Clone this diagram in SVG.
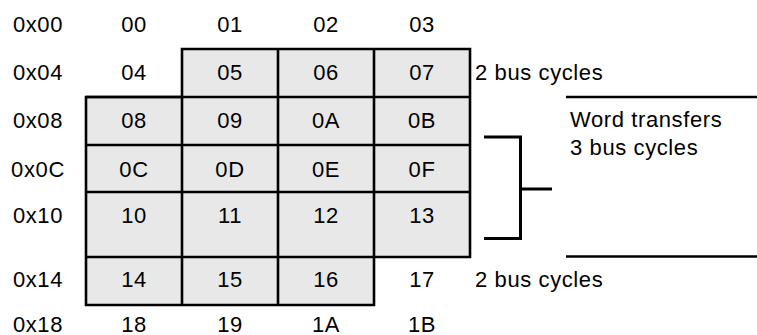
<svg xmlns="http://www.w3.org/2000/svg" width="757" height="335" viewBox="0 0 757 335">
<style>
text{font-family:"Liberation Sans",Arial,sans-serif;font-size:22px;letter-spacing:0.6px;fill:#000}
.c{text-anchor:middle}
.ln{stroke:#000;stroke-width:2.6;fill:none}
.br{stroke:#000;stroke-width:3;fill:none}
</style>
<rect width="757" height="335" fill="#fff"/>
<g id="grid">
<polygon points="182,49 470,49 470,257 374,257 374,305 86,305 86,97 182,97" fill="#e8e8e8" stroke="none"/>
</g>
<g id="connectors">
<path class="ln" d="M182,49 H470 V257 H374 V305 H86 V97 H182 Z"/>
<path class="ln" d="M182,97 V305 M278,49 V305 M374,49 V257 M86,97 H470 M86,145 H470 M86,192 H470 M86,257 H374"/>
<path class="br" d="M484,137 H520.5 V238.5 H484 M520.5,189 H552"/>
<path class="ln" d="M566,97 H757 M566,256.5 H757"/>
</g>
<g id="labels">
<text class="c" x="38" y="32">0x00</text>
<text class="c" x="38" y="80">0x04</text>
<text class="c" x="38" y="128">0x08</text>
<text class="c" x="38" y="177">0x0C</text>
<text class="c" x="38" y="223">0x10</text>
<text class="c" x="38" y="287">0x14</text>
<text class="c" x="38" y="332">0x18</text>
</g>
<g id="row00">
<text class="c" x="134" y="32">00</text><text class="c" x="230" y="32">01</text><text class="c" x="326" y="32">02</text><text class="c" x="422" y="32">03</text>
</g>
<g id="row04">
<text class="c" x="134" y="80">04</text><text class="c" x="230" y="80">05</text><text class="c" x="326" y="80">06</text><text class="c" x="422" y="80">07</text>
</g>
<g id="row08">
<text class="c" x="134" y="128">08</text><text class="c" x="230" y="128">09</text><text class="c" x="326" y="128">0A</text><text class="c" x="422" y="128">0B</text>
</g>
<g id="row0C">
<text class="c" x="134" y="177">0C</text><text class="c" x="230" y="177">0D</text><text class="c" x="326" y="177">0E</text><text class="c" x="422" y="177">0F</text>
</g>
<g id="row10">
<text class="c" x="134" y="223">10</text><text class="c" x="230" y="223">11</text><text class="c" x="326" y="223">12</text><text class="c" x="422" y="223">13</text>
</g>
<g id="row14">
<text class="c" x="134" y="287">14</text><text class="c" x="230" y="287">15</text><text class="c" x="326" y="287">16</text><text class="c" x="422" y="287">17</text>
</g>
<g id="row18">
<text class="c" x="134" y="332">18</text><text class="c" x="230" y="332">19</text><text class="c" x="326" y="332">1A</text><text class="c" x="422" y="332">1B</text>
</g>
<g id="notes">
<text x="475" y="80">2 bus cycles</text>
<text x="570" y="127">Word transfers</text>
<text x="570" y="155">3 bus cycles</text>
<text x="475" y="287">2 bus cycles</text>
</g>
</svg>
